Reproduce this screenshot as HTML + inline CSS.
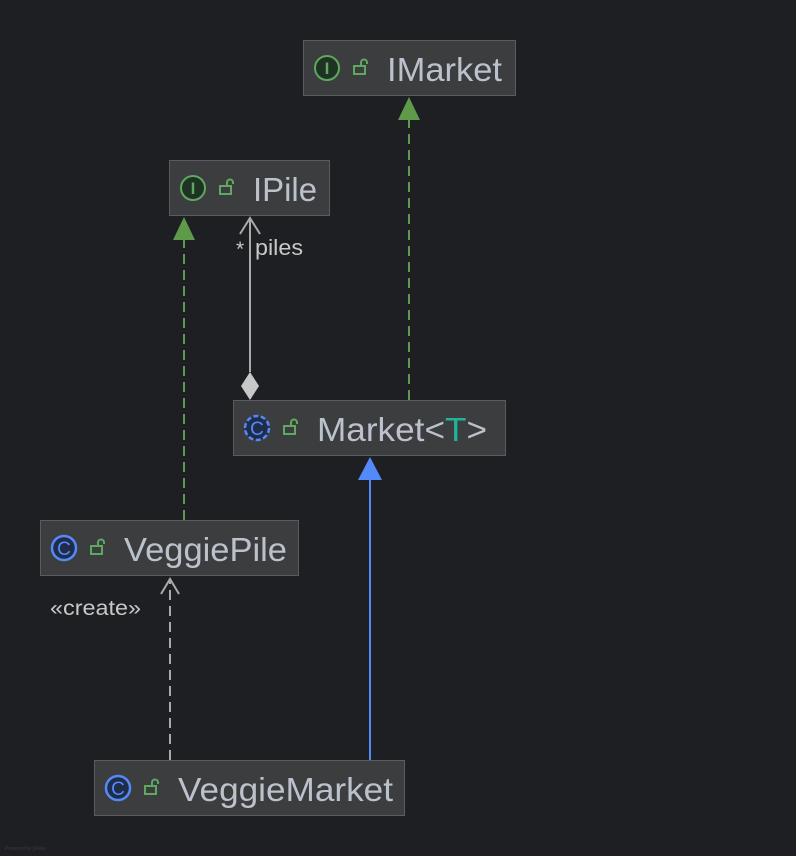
<!DOCTYPE html>
<html><head><meta charset="utf-8"><style>
html,body{margin:0;padding:0;background:#1e1f22;}
svg{display:block;}
text{font-family:"Liberation Sans",sans-serif;}
</style></head><body>
<svg width="796" height="856" viewBox="0 0 796 856" xmlns="http://www.w3.org/2000/svg">
<rect width="796" height="856" fill="#1e1f22"/>
<defs>
<g id="lock"><rect x="0" y="7" width="11" height="8" fill="none" stroke="#5fa85f" stroke-width="2"/><path d="M7 7 V3.5 a3 3 0 0 1 6 0 V5" fill="none" stroke="#5fa85f" stroke-width="2"/></g>
</defs>

<!-- edges -->
<line x1="409" y1="400" x2="409" y2="120" stroke="#5f9a4a" stroke-width="2" stroke-dasharray="10,6"/>
<polygon points="409,97 398,120 420,120" fill="#5f9a4a"/>
<line x1="184" y1="520" x2="184" y2="240" stroke="#5f9a4a" stroke-width="2" stroke-dasharray="10,6"/>
<polygon points="184,217 173,240 195,240" fill="#5f9a4a"/>
<line x1="250" y1="372" x2="250" y2="218" stroke="#aaaaaa" stroke-width="2"/>
<polyline points="240,234 250,218 260,234" fill="none" stroke="#aaaaaa" stroke-width="2"/>
<polygon points="250,372 259,386 250,400 241,386" fill="#c8c8c8"/>
<text x="236" y="256" font-size="21" fill="#c8c8c8">*</text>
<text x="255" y="255" font-size="22" fill="#c8c8c8" textLength="48" lengthAdjust="spacingAndGlyphs">piles</text>
<line x1="370" y1="760" x2="370" y2="478" stroke="#548af7" stroke-width="2"/>
<polygon points="370,457 358,480 382,480" fill="#548af7"/>
<line x1="170" y1="760" x2="170" y2="580" stroke="#aaaaaa" stroke-width="2" stroke-dasharray="10,6"/>
<polyline points="161,594 170,579 179,594" fill="none" stroke="#aaaaaa" stroke-width="2"/>
<text x="50" y="615" font-size="21" fill="#c8c8c8" textLength="91" lengthAdjust="spacingAndGlyphs">«create»</text>

<!-- IMarket -->
<rect x="303.5" y="40.5" width="212" height="55" fill="#3c3d3f" stroke="#5b5c5f"/>
<circle cx="327" cy="68" r="12" fill="#1f3324" stroke="#5fa85f" stroke-width="2"/>
<text x="327" y="74" font-size="17" fill="#5fa85f" text-anchor="middle" font-weight="bold">I</text>
<use href="#lock" x="354" y="59"/>
<text x="387" y="81" font-size="33" fill="#bcc2cc" textLength="115" lengthAdjust="spacingAndGlyphs">IMarket</text>

<!-- IPile -->
<rect x="169.5" y="160.5" width="160" height="55" fill="#3c3d3f" stroke="#5b5c5f"/>
<circle cx="193" cy="188" r="12" fill="#1f3324" stroke="#5fa85f" stroke-width="2"/>
<text x="193" y="194" font-size="17" fill="#5fa85f" text-anchor="middle" font-weight="bold">I</text>
<use href="#lock" x="220" y="179"/>
<text x="253" y="201" font-size="33" fill="#bcc2cc" textLength="64" lengthAdjust="spacingAndGlyphs">IPile</text>

<!-- Market<T> -->
<rect x="233.5" y="400.5" width="272" height="55" fill="#3c3d3f" stroke="#5b5c5f"/>
<circle cx="257" cy="428" r="12" fill="#1f2c4a" stroke="#548af7" stroke-width="2.5" stroke-dasharray="5,2.5"/>
<text x="257" y="435" font-size="19" fill="#548af7" text-anchor="middle">C</text>
<use href="#lock" x="284" y="419"/>
<text x="317" y="441" font-size="33" fill="#bcc2cc" textLength="170" lengthAdjust="spacingAndGlyphs">Market&lt;<tspan fill="#21b39a">T</tspan>&gt;</text>

<!-- VeggiePile -->
<rect x="40.5" y="520.5" width="258" height="55" fill="#3c3d3f" stroke="#5b5c5f"/>
<circle cx="64" cy="548" r="12" fill="#1f2c4a" stroke="#548af7" stroke-width="2.5"/>
<text x="64" y="555" font-size="19" fill="#548af7" text-anchor="middle">C</text>
<use href="#lock" x="91" y="539"/>
<text x="124" y="561" font-size="33" fill="#bcc2cc" textLength="163" lengthAdjust="spacingAndGlyphs">VeggiePile</text>

<!-- VeggieMarket -->
<rect x="94.5" y="760.5" width="310" height="55" fill="#3c3d3f" stroke="#5b5c5f"/>
<circle cx="118" cy="788" r="12" fill="#1f2c4a" stroke="#548af7" stroke-width="2.5"/>
<text x="118" y="795" font-size="19" fill="#548af7" text-anchor="middle">C</text>
<use href="#lock" x="145" y="779"/>
<text x="178" y="801" font-size="33" fill="#bcc2cc" textLength="215" lengthAdjust="spacingAndGlyphs">VeggieMarket</text>

<text x="5" y="850" font-size="5" fill="#3a3b3e">Powered by yFiles</text>
</svg>
</body></html>
